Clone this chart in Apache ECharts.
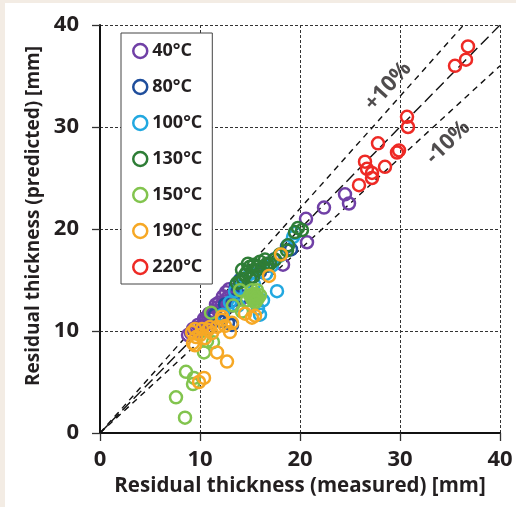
<!DOCTYPE html>
<html>
<head>
<meta charset="utf-8">
<script src="https://cdn.jsdelivr.net/npm/echarts@6/dist/echarts.min.js"></script>
<style>
  html, body { margin: 0; padding: 0; background: #f3ece4; }
  #chart { width: 516px; height: 507px; }
</style>
</head>
<body>
<div id="chart"></div>
<script>
// Residual thickness: measured vs predicted, grouped by temperature
const temps = ['40°C', '80°C', '100°C', '130°C', '150°C', '190°C', '220°C'];
const colors = ['#7040a6', '#1f4e9c', '#22a8e0', '#2e7d36', '#82c44e', '#f6a825', '#ee2a25'];

const pts40 = [[8.8, 9.6], [9.3, 10.2], [9.8, 10.6], [10.2, 10.4], [10.5, 11.0], [10.8, 11.4], [11.2, 11.2],
  [11.4, 11.9], [11.7, 12.3], [12.0, 12.0], [12.2, 12.6], [12.5, 12.9], [12.8, 13.3], [12.9, 14.1],
  [13.2, 12.5], [13.5, 13.6], [11.0, 10.8], [10.0, 10.0], [14.2, 13.2], [18.3, 16.5], [20.7, 18.7],
  [20.6, 21.0], [22.4, 22.1], [24.5, 23.4], [24.9, 22.5], [9.6, 10.3], [10.4, 11.2], [10.9, 11.7],
  [11.6, 12.6], [12.3, 13.4], [12.6, 13.8], [11.9, 12.8], [10.6, 10.6], [9.1, 9.8]];
const pts80 = [[11.5, 11.6], [12.0, 11.0], [12.8, 10.8], [13.2, 10.6], [12.5, 12.6], [13.3, 13.0], [13.6, 14.5],
  [14.0, 15.0], [14.6, 14.1], [15.2, 15.3], [16.0, 15.8], [16.8, 16.4], [17.4, 17.0], [18.7, 18.3],
  [19.1, 18.0], [14.2, 13.4]];
const pts100 = [[12.3, 11.6], [13.0, 12.8], [13.5, 13.9], [14.0, 14.2], [14.4, 15.0], [15.0, 15.6], [15.4, 14.6],
  [16.0, 11.6], [16.3, 13.0], [16.6, 15.6], [17.2, 16.4], [17.7, 13.9], [18.0, 17.4], [18.8, 18.4],
  [19.3, 19.2], [19.5, 19.6], [15.8, 12.2], [13.8, 12.5]];
const pts130 = [[13.7, 14.7], [14.0, 14.8], [14.5, 15.5], [14.7, 15.8], [15.0, 15.2], [15.0, 16.3], [15.3, 15.3],
  [15.7, 16.0], [15.7, 16.3], [16.3, 16.3], [16.7, 16.6], [17.0, 16.6], [17.5, 17.0], [18.0, 17.5],
  [18.7, 17.9], [18.8, 18.4], [19.5, 19.7], [19.8, 20.1], [20.2, 19.9], [14.2, 16.0], [14.3, 15.1],
  [15.4, 16.5], [16.0, 16.8], [16.5, 17.0], [14.8, 16.6]];
const pts150 = [[8.5, 1.5], [7.6, 3.5], [8.6, 6.0], [9.4, 5.4], [9.3, 4.8], [10.4, 7.9], [11.3, 8.9], [10.7, 9.0],
  [11.1, 11.8], [13.3, 12.5], [14.2, 11.9], [14.0, 14.0], [14.7, 13.0], [15.0, 13.5], [15.3, 13.0],
  [15.5, 13.6], [15.8, 13.2], [15.5, 12.8], [16.0, 13.5], [15.2, 14.0], [15.7, 14.0], [15.2, 13.2],
  [15.4, 13.4], [15.6, 13.3], [15.3, 13.6], [15.6, 12.9]];
const pts190 = [[9.2, 9.9], [9.3, 8.8], [9.5, 8.6], [9.6, 9.4], [10.0, 9.6], [10.2, 10.2], [10.5, 9.3],
  [10.8, 10.1], [11.0, 10.4], [11.2, 9.8], [11.7, 10.4], [12.2, 11.1], [12.2, 11.4], [12.5, 10.5],
  [13.0, 9.9], [13.2, 10.8], [11.7, 7.9], [12.7, 7.0], [10.4, 5.4], [9.9, 5.0], [14.5, 11.7],
  [15.2, 11.3], [15.5, 11.5], [16.9, 15.4], [18.1, 17.5], [9.5, 10.2]];
const pts220 = [[25.9, 24.3], [26.5, 26.6], [26.7, 25.9], [27.2, 25.5], [27.2, 25.0], [28.5, 26.1], [27.8, 28.4],
  [29.7, 27.5], [29.9, 27.7], [30.7, 31.0], [30.8, 30.0], [35.5, 36.0], [36.6, 36.6], [36.8, 37.9]];
const groups = [pts40, pts80, pts100, pts130, pts150, pts190, pts220];

// Ratio lines: 1:1 and +/-10 %
const ratios = [1.0, 1.1, 0.9];
const ratioDash = [[11, 5], [6, 5], [6, 5]];
const ratioLabels = ['+10%', '-10%'];
const ratioLabelPos = [[28.8, 34.0], [34.8, 28.5]];
const ratioLabelAngle = [48, 44];

const axisMax = 40;
const ticks = 10;

function ratioLine(r) {
  const xEnd = Math.min(axisMax, axisMax / r);
  return [[0, 0], [xEnd, r * xEnd]];
}

const font = '"Open Sans", "DejaVu Sans", sans-serif';
const ink = '#231f20';

const series = [];
ratios.forEach((r, i) => {
  series.push({
    type: 'line', data: ratioLine(r), symbol: 'none', silent: true, z: 1,
    lineStyle: { color: '#111', width: 1.4, type: ratioDash[i] }
  });
});
temps.forEach((t, i) => {
  series.push({
    name: t, type: 'scatter', data: groups[i], symbol: 'circle', symbolSize: 12, z: 3 + i,
    itemStyle: { color: 'rgba(0,0,0,0)', borderColor: colors[i], borderWidth: 2.5, opacity: 1 }
  });
});
ratioLabels.forEach((txt, i) => {
  series.push({
    type: 'scatter', data: [ratioLabelPos[i]], symbolSize: 0, silent: true, z: 20,
    label: {
      show: true, position: 'inside', formatter: txt, rotate: ratioLabelAngle[i],
      fontFamily: font, fontWeight: 'bold', fontSize: 22, color: ink
    }
  });
});

const axisCommon = {
  type: 'value', min: 0, max: axisMax, interval: ticks,
  axisLine: { show: true, onZero: false, lineStyle: { color: '#111', width: 2 } },
  axisTick: { show: true, inside: false, length: 8, lineStyle: { color: '#333', width: 1.3 } },
  splitLine: { show: true, lineStyle: { color: '#333', width: 1, type: [3, 2] } },
  axisLabel: { fontFamily: font, fontWeight: 'bold', fontSize: 22, color: ink },
  nameLocation: 'middle',
  nameTextStyle: { fontFamily: font, fontWeight: 'bold', fontSize: 20.5, color: ink }
};

const chart = echarts.init(document.getElementById('chart'), null, { renderer: 'canvas' });
chart.setOption({
  backgroundColor: '#f3ece4',
  animation: false,
  graphic: [{
    type: 'rect', left: 5, top: 3, z: -10,
    shape: { width: 511, height: 504 },
    style: { fill: '#ffffff' }
  }],
  grid: { left: 100, right: 16, top: 25, bottom: 74 },
  xAxis: Object.assign({}, axisCommon, {
    name: 'Residual thickness (measured) [mm]', nameGap: 36,
    axisLabel: Object.assign({}, axisCommon.axisLabel, { margin: 16 })
  }),
  yAxis: Object.assign({}, axisCommon, {
    name: 'Residual thickness (predicted) [mm]', nameGap: 56,
    nameTextStyle: Object.assign({}, axisCommon.nameTextStyle, { fontSize: 19, padding: [0, 0, 0, 26] }),
    axisLabel: Object.assign({}, axisCommon.axisLabel, { margin: 21 })
  }),
  legend: {
    data: temps, orient: 'vertical', left: 121, top: 33,
    backgroundColor: '#ffffff', borderColor: '#444', borderWidth: 1,
    padding: [8, 10, 7, 11], itemGap: 16, itemWidth: 14, itemHeight: 14,
    icon: 'circle',
    itemStyle: { color: 'rgba(0,0,0,0)', borderWidth: 2.5 },
    textStyle: { fontFamily: font, fontWeight: 'bold', fontSize: 18, color: ink, lineHeight: 20 }
  },
  series: series
});
</script>
</body>
</html>
